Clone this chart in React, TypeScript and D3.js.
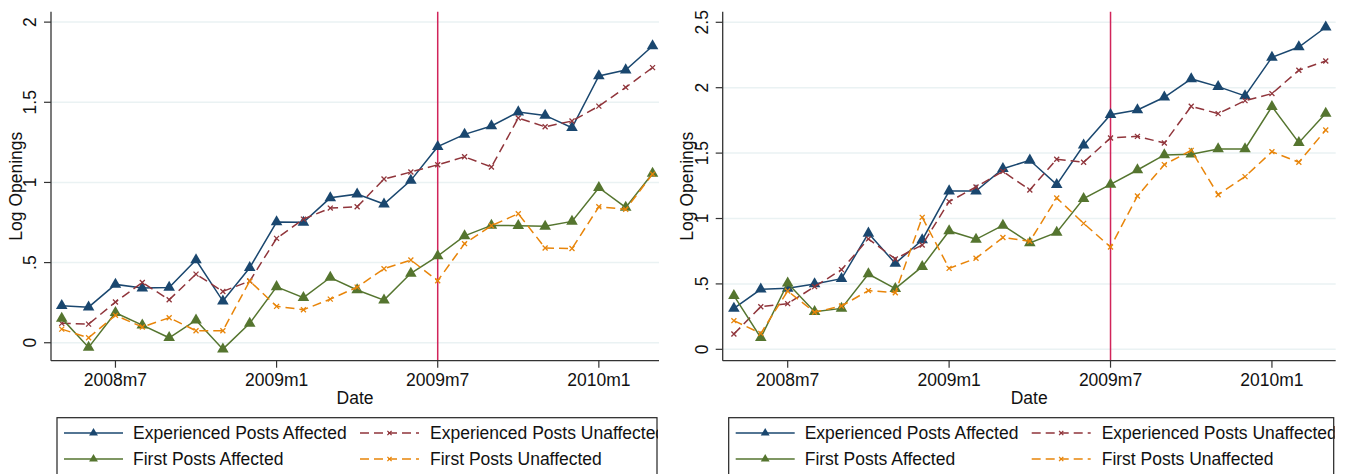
import React from "react";
import * as d3 from "d3";

// Monthly observations, 2008m5 .. 2010m3
const months = [
  "2008m5", "2008m6", "2008m7", "2008m8", "2008m9", "2008m10", "2008m11", "2008m12",
  "2009m1", "2009m2", "2009m3", "2009m4", "2009m5", "2009m6", "2009m7", "2009m8",
  "2009m9", "2009m10", "2009m11", "2009m12", "2010m1", "2010m2", "2010m3",
];
const xTickLabels = ["2008m7", "2009m1", "2009m7", "2010m1"];
const eventMonth = "2009m7";

// Left panel series
const expAffectedL = [0.231, 0.222, 0.364, 0.341, 0.345, 0.516, 0.26, 0.468, 0.753, 0.751, 0.904, 0.927, 0.865, 1.013, 1.223, 1.3, 1.352, 1.439, 1.418, 1.341, 1.664, 1.701, 1.851];
const expUnaffectedL = [0.121, 0.116, 0.254, 0.376, 0.268, 0.428, 0.32, 0.385, 0.651, 0.771, 0.84, 0.848, 1.021, 1.065, 1.11, 1.16, 1.096, 1.402, 1.347, 1.383, 1.476, 1.593, 1.716];
const firstAffectedL = [0.152, -0.029, 0.187, 0.11, 0.031, 0.141, -0.04, 0.121, 0.349, 0.281, 0.407, 0.329, 0.266, 0.433, 0.541, 0.667, 0.732, 0.73, 0.726, 0.757, 0.967, 0.844, 1.056];
const firstUnaffectedL = [0.085, 0.031, 0.171, 0.098, 0.156, 0.075, 0.075, 0.385, 0.227, 0.206, 0.272, 0.347, 0.462, 0.516, 0.387, 0.618, 0.73, 0.805, 0.591, 0.588, 0.848, 0.832, 1.052];
const yTicksL = [0, 0.5, 1, 1.5, 2];
const yTickLabelsL = ["0", ".5", "1", "1.5", "2"];

// Right panel series
const expAffectedR = [0.313, 0.459, 0.466, 0.5, 0.54, 0.887, 0.657, 0.836, 1.21, 1.21, 1.381, 1.445, 1.259, 1.56, 1.794, 1.83, 1.927, 2.067, 2.008, 1.937, 2.232, 2.311, 2.462];
const expUnaffectedR = [0.117, 0.326, 0.349, 0.479, 0.609, 0.844, 0.691, 0.798, 1.129, 1.241, 1.36, 1.218, 1.453, 1.43, 1.616, 1.628, 1.577, 1.858, 1.802, 1.901, 1.955, 2.133, 2.204];
const firstAffectedR = [0.41, 0.089, 0.505, 0.288, 0.313, 0.576, 0.464, 0.632, 0.905, 0.841, 0.948, 0.813, 0.894, 1.152, 1.261, 1.371, 1.486, 1.491, 1.532, 1.532, 1.855, 1.58, 1.804];
const firstUnaffectedR = [0.219, 0.122, 0.446, 0.283, 0.331, 0.449, 0.433, 1.009, 0.619, 0.696, 0.855, 0.826, 1.157, 0.963, 0.782, 1.172, 1.412, 1.521, 1.182, 1.32, 1.511, 1.43, 1.677];
const yTicksR = [0, 0.5, 1, 1.5, 2, 2.5];
const yTickLabelsR = ["0", ".5", "1", "1.5", "2", "2.5"];

const seriesNames = [
  "Experienced Posts Affected",
  "Experienced Posts Unaffected",
  "First Posts Affected",
  "First Posts Unaffected",
];

const FONT = "'Liberation Sans', Arial, Helvetica, sans-serif";
const FS = 17.5;

type Style = { color: string; dash?: string; marker: "tri" | "x" };
const styles: Style[] = [
  { color: "#1a476f", marker: "tri" },
  { color: "#90353b", dash: "9,5", marker: "x" },
  { color: "#55752f", marker: "tri" },
  { color: "#e8850a", dash: "9,5", marker: "x" },
];

type PanelProps = {
  id: string;
  x0: number;
  x1: number;
  xDomain: [number, number];
  yDomain: [number, number];
  yTicks: number[];
  yTickLabels: string[];
  data: number[][];
  yTitleX: number;
  yTickLabelX: number;
};

const TOP = 11.7;
const BOTTOM = 360.7;

function Marker({ kind, x, y, color, size }: { kind: string; x: number; y: number; color: string; size: number }) {
  if (kind === "tri") {
    const p = d3.symbol(d3.symbolTriangle, size)() || "";
    return <path d={p} transform={`translate(${x},${y})`} fill={color} />;
  }
  const r = Math.sqrt(size) / 2.6;
  return (
    <path
      d={`M${x - r},${y - r}L${x + r},${y + r}M${x - r},${y + r}L${x + r},${y - r}`}
      stroke={color}
      strokeWidth={1.3}
      fill="none"
    />
  );
}

function Panel(p: PanelProps) {
  const x = d3.scaleLinear().domain(p.xDomain).range([p.x0, p.x1]);
  const y = d3.scaleLinear().domain(p.yDomain).range([BOTTOM, TOP]);
  const line = d3
    .line<number>()
    .x((_, i) => x(i))
    .y((d) => y(d));
  const xTickIdx = xTickLabels.map((m) => months.indexOf(m));
  const evX = x(months.indexOf(eventMonth));
  const midX = (p.x0 + p.x1) / 2;

  // legend geometry
  const lgLeft = p.x0 + 6;
  const lgRight = p.x1 - 2;
  const lgTop = 417.7;
  const rows = [433, 459];
  const colOff = [{ s: 7, t: 76 }, { s: 303, t: 373 }];

  return (
    <g>
      {/* gridlines */}
      {p.yTicks.map((t) => (
        <line key={"g" + t} x1={p.x0} x2={p.x1} y1={y(t)} y2={y(t)} stroke="#eaf2f3" strokeWidth={1.5} />
      ))}
      {/* event line */}
      <line x1={evX} x2={evX} y1={TOP} y2={BOTTOM} stroke="#d1245a" strokeWidth={1.5} />
      {/* series */}
      {p.data.map((vals, si) => (
        <g key={"s" + si}>
          <path
            d={line(vals) || ""}
            fill="none"
            stroke={styles[si].color}
            strokeWidth={1.5}
            strokeDasharray={styles[si].dash}
          />
          {vals.map((v, i) => (
            <Marker
              key={i}
              kind={styles[si].marker}
              x={x(i)}
              y={y(v)}
              color={styles[si].color}
              size={styles[si].marker === "tri" ? 58 : 42}
            />
          ))}
        </g>
      ))}
      {/* y axis */}
      <line x1={p.x0} x2={p.x0} y1={TOP} y2={BOTTOM} stroke="#333" strokeWidth={1.3} />
      {p.yTicks.map((t, i) => (
        <g key={"yt" + t}>
          <line x1={p.x0 - 7} x2={p.x0} y1={y(t)} y2={y(t)} stroke="#333" strokeWidth={1.2} />
          <text
            transform={`translate(${p.yTickLabelX},${y(t)}) rotate(-90)`}
            textAnchor="middle"
            dy="0.36em"
            fontSize={FS}
            fontFamily={FONT}
            fill="#111"
          >
            {p.yTickLabels[i]}
          </text>
        </g>
      ))}
      <text
        transform={`translate(${p.yTitleX},${(TOP + BOTTOM) / 2}) rotate(-90)`}
        textAnchor="middle"
        fontSize={FS}
        fontFamily={FONT}
        fill="#111"
      >
        Log Openings
      </text>
      {/* x axis */}
      <line x1={p.x0} x2={p.x1} y1={BOTTOM} y2={BOTTOM} stroke="#333" strokeWidth={1.3} />
      {xTickIdx.map((ti, i) => (
        <g key={"xt" + ti}>
          <line x1={x(ti)} x2={x(ti)} y1={BOTTOM} y2={BOTTOM + 7} stroke="#333" strokeWidth={1.2} />
          <text x={x(ti)} y={385.5} textAnchor="middle" fontSize={FS} fontFamily={FONT} fill="#111">
            {xTickLabels[i]}
          </text>
        </g>
      ))}
      <text x={midX} y={404} textAnchor="middle" fontSize={FS} fontFamily={FONT} fill="#111">
        Date
      </text>
      {/* legend */}
      <clipPath id={p.id + "-clip"}>
        <rect x={lgLeft} y={lgTop} width={lgRight - lgLeft + 1} height={80} />
      </clipPath>
      <g clipPath={`url(#${p.id}-clip)`}>
        <rect x={lgLeft} y={lgTop} width={lgRight - lgLeft} height={80} fill="#fff" />
        {seriesNames.map((name, si) => {
          const col = colOff[si % 2];
          const row = rows[Math.floor(si / 2)];
          const sx0 = lgLeft + col.s;
          const sx1 = sx0 + 59;
          return (
            <g key={"lg" + si}>
              <line
                x1={sx0}
                x2={sx1}
                y1={row}
                y2={row}
                stroke={styles[si].color}
                strokeWidth={1.5}
                strokeDasharray={styles[si].dash}
              />
              <Marker kind={styles[si].marker} x={(sx0 + sx1) / 2} y={row} color={styles[si].color} size={styles[si].marker === "tri" ? 34 : 30} />
              <text x={lgLeft + col.t} y={row + 6} fontSize={FS} fontFamily={FONT} fill="#111">
                {name}
              </text>
            </g>
          );
        })}
      </g>
      <rect x={lgLeft} y={lgTop} width={lgRight - lgLeft} height={80} fill="none" stroke="#222" strokeWidth={1.2} />
    </g>
  );
}

export default function App() {
  return (
    <svg
      width={1349}
      height={474}
      style={{ position: "absolute", left: 0, top: 0, background: "#fff" }}
    >
      <rect width={1349} height={474} fill="#fff" />
      <Panel
        id="left"
        x0={51}
        x1={659}
        xDomain={[-0.4, 22.24]}
        yDomain={[-0.112, 2.065]}
        yTicks={yTicksL}
        yTickLabels={yTickLabelsL}
        data={[expAffectedL, expUnaffectedL, firstAffectedL, firstUnaffectedL]}
        yTitleX={22}
        yTickLabelX={30}
      />
      <Panel
        id="right"
        x0={722.7}
        x1={1335.7}
        xDomain={[-0.416, 22.37]}
        yDomain={[-0.087, 2.581]}
        yTicks={yTicksR}
        yTickLabels={yTickLabelsR}
        data={[expAffectedR, expUnaffectedR, firstAffectedR, firstUnaffectedR]}
        yTitleX={693}
        yTickLabelX={701.7}
      />
    </svg>
  );
}
